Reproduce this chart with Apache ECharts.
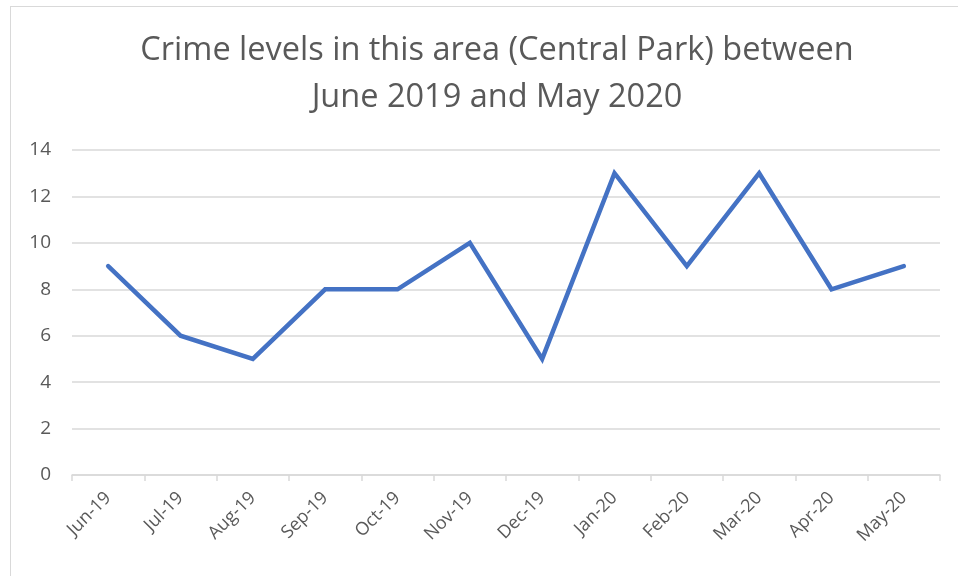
<!DOCTYPE html>
<html><head><meta charset="utf-8">
<script src="https://cdn.jsdelivr.net/npm/echarts@6/dist/echarts.min.js"></script>
<style>html,body{margin:0;padding:0;background:#fff}#c{width:958px;height:576px}
#frame{position:absolute;left:10px;top:6px;width:1000px;height:600px;border:1px solid #d9d9d9;box-sizing:border-box;pointer-events:none}</style>
</head><body><div id="c"></div><div id="frame"></div>
<script>
const categories = ['Jun-19','Jul-19','Aug-19','Sep-19','Oct-19','Nov-19','Dec-19','Jan-20','Feb-20','Mar-20','Apr-20','May-20'];
const crimeLevels = [9,6,5,8,8,10,5,13,9,13,8,9];
const titleLines = 'Crime levels in this area (Central Park) between\nJune 2019 and May 2020';
const chart = echarts.init(document.getElementById('c'));
chart.setOption({
  animation:false,
  title:{text:titleLines,left:492,textAlign:'center',top:22,
    textStyle:{fontFamily:'Open Sans',fontWeight:'normal',fontSize:32.5,color:'#595959',lineHeight:47}},
  grid:{left:72,right:18,top:150,bottom:101},
  xAxis:{type:'category',data:categories,boundaryGap:true,
    axisLine:{lineStyle:{color:'#d9d9d9',width:1.5}},
    axisTick:{show:true,length:6,lineStyle:{color:'#d9d9d9',width:1.5}},
    axisLabel:{rotate:45,color:'#595959',fontSize:18,fontFamily:'Open Sans',margin:20}},
  yAxis:{type:'value',min:0,max:14,interval:2,
    axisLine:{show:false},axisTick:{show:false},
    splitLine:{lineStyle:{color:'#d9d9d9',width:1.5}},
    axisLabel:{color:'#595959',fontSize:19,fontFamily:'Open Sans',margin:21}},
  series:[{type:'line',data:crimeLevels,symbol:'none',lineStyle:{color:'#4472C4',width:4.5,cap:'round',join:'miter'}}]
});
</script></body></html>
